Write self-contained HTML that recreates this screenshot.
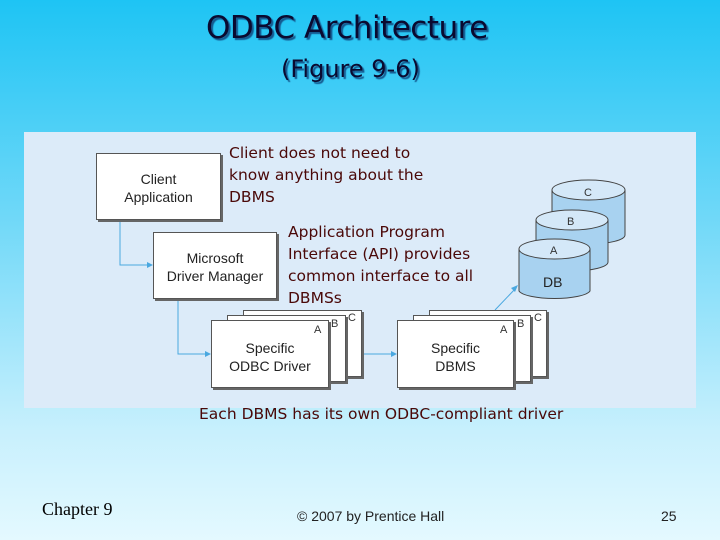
<!DOCTYPE html>
<html><head><style>
body{margin:0}
#s{position:relative;width:720px;height:540px;overflow:hidden;background:linear-gradient(#1ec4f4 0%,#6fd8f8 40%,#c8f0fd 80%,#e4f9ff 100%);font-family:"DejaVu Sans","Liberation Sans",sans-serif}
.t{position:absolute;white-space:nowrap}
.title{color:#0a0a30;text-shadow:2px 2px 1px #155a90}
.n{color:#4a0808;font-size:15.5px;line-height:22px}
.b{position:absolute;background:#fff;border:1px solid #555;box-shadow:2px 2px 0 #666;font-family:"Liberation Sans",sans-serif;font-size:14px;color:#222;text-align:center;box-sizing:border-box}
.l{position:absolute;font-family:"Liberation Sans",sans-serif;font-size:11px;color:#333}
</style></head><body><div id="s">
<div class="t title" style="left:206px;top:10px;font-size:31px;letter-spacing:-0.5px">ODBC Architecture</div>
<div class="t title" style="left:281px;top:55px;font-size:24px">(Figure 9-6)</div>
<div style="position:absolute;left:24px;top:132px;width:672px;height:276px;background:#dcebf9"></div>
<svg style="position:absolute;left:0;top:0" width="720" height="540">
<g stroke="#4aa8e0" stroke-width="1" fill="none">
<polyline points="120,221 120,265 150,265"/>
<polyline points="178,300 178,354 208,354"/>
<line x1="363" y1="354" x2="394" y2="354"/>
<line x1="495" y1="310" x2="516" y2="288"/>
</g>
<g fill="#4aa8e0"><polygon points="153,265 147,262 147,268"/><polygon points="211,354 205,351 205,357"/><polygon points="397,354 391,351 391,357"/><polygon points="518,285 511,288 515,292"/></g>
<g stroke="#444" stroke-width="1">
<g fill="#a8d2f0"><path d="M552,190 v45 a36,9 0 0 0 73,0 v-45"/><ellipse cx="588.5" cy="190" rx="36.5" ry="10" fill="#d4e8f8"/></g>
<g fill="#a8d2f0"><path d="M536,220 v42 a36,9 0 0 0 72,0 v-42"/><ellipse cx="572" cy="220" rx="36" ry="10" fill="#d4e8f8"/></g>
<g fill="#a8d2f0"><path d="M519,249 v42 a36,9 0 0 0 71,0 v-42"/><ellipse cx="554.5" cy="249" rx="35.5" ry="10" fill="#d4e8f8"/></g>
</g>
<g font-family="Liberation Sans" font-size="11" fill="#333"><text x="584" y="196">C</text><text x="567" y="225">B</text><text x="550" y="254">A</text></g>
<text x="543" y="287" font-family="Liberation Sans" font-size="14" fill="#222">DB</text>
</svg>
<div class="b" style="left:96px;top:153px;width:125px;height:67px;padding-top:16px;line-height:18px">Client<br>Application</div>
<div class="b" style="left:153px;top:232px;width:124px;height:67px;padding-top:16px;line-height:18px">Microsoft<br>Driver Manager</div>
<div class="b" style="left:243px;top:310px;width:119px;height:67px"></div>
<div class="b" style="left:227px;top:315px;width:119px;height:67px"></div>
<div class="b" style="left:211px;top:320px;width:118px;height:68px;padding-top:18px;line-height:18px">Specific<br>ODBC Driver</div>
<div class="l" style="left:348px;top:312px">C</div><div class="l" style="left:331px;top:318px">B</div><div class="l" style="left:314px;top:324px">A</div>
<div class="b" style="left:429px;top:310px;width:118px;height:67px"></div>
<div class="b" style="left:413px;top:315px;width:118px;height:67px"></div>
<div class="b" style="left:397px;top:320px;width:117px;height:68px;padding-top:18px;line-height:18px">Specific<br>DBMS</div>
<div class="l" style="left:534px;top:312px">C</div><div class="l" style="left:517px;top:318px">B</div><div class="l" style="left:500px;top:324px">A</div>
<div class="t n" style="left:229px;top:142px">Client does not need to<br>know anything about the<br>DBMS</div>
<div class="t n" style="left:288px;top:221px">Application Program<br>Interface (API) provides<br>common interface to all<br>DBMSs</div>
<div class="t n" style="left:199px;top:403px">Each DBMS has its own ODBC-compliant driver</div>
<div class="t" style="left:42px;top:499px;font-family:'Liberation Serif',serif;font-size:18px;color:#000">Chapter 9</div>
<div class="t" style="left:297px;top:508px;font-family:'Liberation Sans',sans-serif;font-size:14px;color:#222">© 2007 by Prentice Hall</div>
<div class="t" style="left:661px;top:508px;font-family:'Liberation Sans',sans-serif;font-size:14px;color:#222">25</div>
</div></body></html>
